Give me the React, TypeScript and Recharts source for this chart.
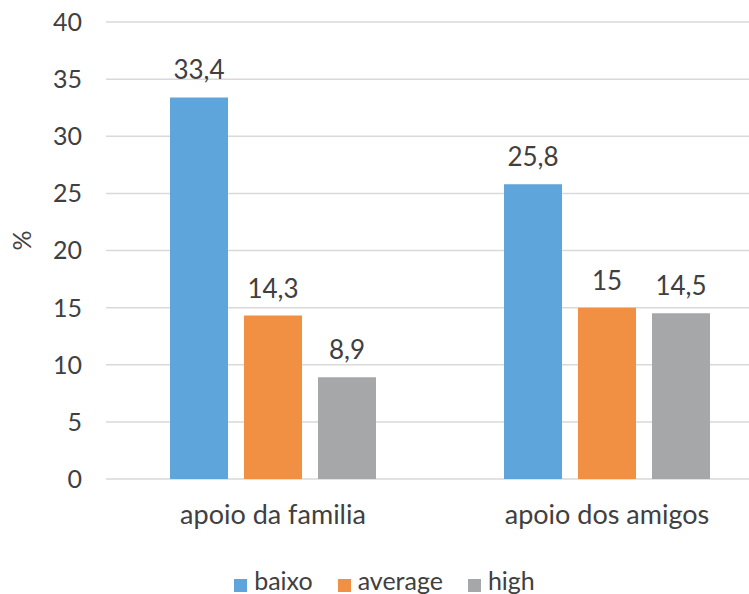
import React from "react";
import { BarChart, Bar, XAxis, YAxis, CartesianGrid, Legend, LabelList } from "recharts";

const categories = ["apoio da familia", "apoio dos amigos"];
const baixo = [33.4, 25.8];
const average = [14.3, 15];
const high = [8.9, 14.5];
const yTicks = [0, 5, 10, 15, 20, 25, 30, 35, 40];
const seriesOrder = ["baixo", "average", "high"];

const data = categories.map((name, i) => ({
  name,
  baixo: baixo[i],
  average: average[i],
  high: high[i],
}));

const FONT = "Lato, 'Open Sans', sans-serif";
const TXT = "#404040";
const fmt = (v: any) => String(v).replace(".", ",");

export default function App() {
  return (
    <div style={{ position: "absolute", left: 0, top: 0, width: 749, height: 594, overflow: "hidden", background: "#fff" }}>
      <BarChart
        width={780}
        height={605}
        data={data}
        margin={{ top: 22, right: 6, bottom: 0, left: 0 }}
        barCategoryGap={64}
        barGap={16}
        style={{ fontFamily: FONT }}
      >
        <CartesianGrid stroke="#D9D9D9" strokeWidth={1.5} vertical={false} />
        <XAxis
          dataKey="name"
          axisLine={false}
          tickLine={false}
          tickSize={0}
          tickMargin={26}
          height={96}
          tick={{ fill: TXT, fontSize: 27, fontFamily: FONT }}
        />
        <YAxis
          domain={[0, 40]}
          ticks={yTicks}
          axisLine={false}
          tickLine={false}
          tickSize={0}
          tickMargin={24}
          width={106}
          tick={{ fill: TXT, fontSize: 25, fontFamily: FONT }}
          label={{ value: "%", angle: -90, position: "insideLeft", offset: 22, fill: TXT, fontSize: 25, fontFamily: FONT }}
        />
        <Legend
          verticalAlign="bottom"
          iconType="square"
          iconSize={13}
          itemSorter={(item: any) => seriesOrder.indexOf(item.value)}
          wrapperStyle={{ top: 565, bottom: "auto", paddingLeft: 10 }}
          formatter={(v: any) => <span style={{ color: TXT, fontSize: 25, fontFamily: FONT, marginLeft: 3, marginRight: 15 }}>{v}</span>}
        />
        <Bar dataKey="baixo" name="baixo" fill="#5DA5DA" isAnimationActive={false}>
          <LabelList dataKey="baixo" position="top" offset={18} formatter={fmt} fill={TXT} fontSize={26} fontFamily={FONT} />
        </Bar>
        <Bar dataKey="average" name="average" fill="#F18F43" isAnimationActive={false}>
          <LabelList dataKey="average" position="top" offset={18} formatter={fmt} fill={TXT} fontSize={26} fontFamily={FONT} />
        </Bar>
        <Bar dataKey="high" name="high" fill="#A5A7A8" isAnimationActive={false}>
          <LabelList dataKey="high" position="top" offset={18} formatter={fmt} fill={TXT} fontSize={26} fontFamily={FONT} />
        </Bar>
      </BarChart>
    </div>
  );
}
